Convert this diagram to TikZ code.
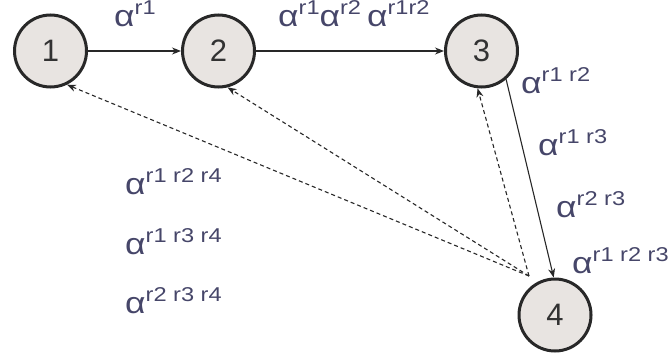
\documentclass[tikz,border=0pt]{standalone}
\usepackage{graphicx}
\usepackage{fontspec}
\setmainfont{Liberation Sans}
\usetikzlibrary{arrows.meta}
\definecolor{lbl}{RGB}{70,70,105}
\definecolor{nodefill}{RGB}{232,228,225}
\definecolor{edgec}{RGB}{40,40,40}
\definecolor{numc}{RGB}{50,50,50}
\newcommand\alp[1]{\scalebox{1.18}[1]{\fontsize{30}{30}\selectfont α\raisebox{0.4em}{\fontsize{20}{20}\selectfont #1}}}
\begin{document}
\begin{tikzpicture}[x=1pt,y=-1pt,
  state/.style={circle,draw=edgec,line width=3pt,fill=nodefill,minimum size=72pt,inner sep=0pt,font=\fontsize{31}{31}\selectfont,text=numc},
  solidarrow/.style={draw=edgec,line width=1.1pt,-{Stealth[length=9pt,width=7pt]}},
  dasharrow/.style={draw=edgec,line width=1.1pt,dash pattern=on 4pt off 3pt,-{Stealth[length=9pt,width=7pt]}},
  lab/.style={anchor=base west,inner sep=0pt,text=lbl}]
\useasboundingbox (0,0) rectangle (668,353);
\node[state] (n1) at (50.5,51) {1};
\node[state] (n2) at (218.5,51) {2};
\node[state] (n3) at (481.5,51) {3};
\node[state] (n4) at (555,315) {4};
\coordinate (d4) at (529,276);
\draw[solidarrow] (n1) -- (n2);
\draw[solidarrow] (n2) -- (n3);
\draw[solidarrow] (n3.-49) -- (n4.92);
\draw[dasharrow] (d4) -- (n1.-64);
\draw[dasharrow] (d4) -- (n2.-76);
\draw[dasharrow] (d4) -- (n3.-96);
\node[lab] (l12) at (114,27) {\alp{r1}};
\node[lab] (l23) at (278,27) {\alp{r1}\alp{r2}\hspace{6pt}\alp{r1r2}};
\node[lab] (l34a) at (521,93) {\alp{r1 r2}};
\node[lab] (l34b) at (538,155) {\alp{r1 r3}};
\node[lab] (l34c) at (556,217) {\alp{r2 r3}};
\node[lab] (l34d) at (572,273) {\alp{r1 r2 r3}};
\node[lab] (l41) at (125,194) {\alp{r1 r2 r4}};
\node[lab] (l42) at (125,254) {\alp{r1 r3 r4}};
\node[lab] (l43) at (125,313) {\alp{r2 r3 r4}};
\end{tikzpicture}
\end{document}
